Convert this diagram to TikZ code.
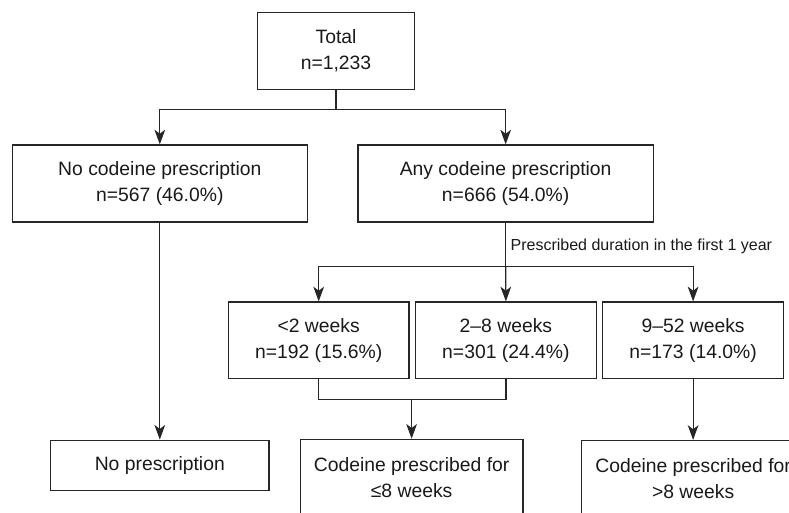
\documentclass[tikz,border=0pt]{standalone}
\usepackage{fontspec}
\setmainfont{Liberation Sans}
\usetikzlibrary{arrows.meta, positioning}

\begin{document}
\begin{tikzpicture}[
    x=0.75pt, y=-0.75pt,
    node distance=4pt,
    block/.style={rectangle, draw=black!85, line width=0.9pt, text=black!90, align=center, inner sep=0pt, minimum width=221.5pt, minimum height=57.75pt, font=\fontsize{14.5}{19.5}\selectfont},
    smallblock/.style={block, minimum width=135.5pt, minimum height=57.5pt},
    endblock/.style={block, minimum width=167pt},
    note/.style={text=black!90, inner sep=0pt, font=\fontsize{12}{14}\selectfont},
    line/.style={draw=black!85, line width=0.9pt, -{Stealth[length=11pt, width=8pt, inset=3pt]}}
]
    \useasboundingbox (0,0) rectangle (789,513);
    \clip (0,0) rectangle (789,513);

    % Nodes
    \node[block, minimum width=118.3pt] (total) at (336,50.8) {Total\\n=1,233};
    \node[block] (nocod) at (159.8,183.5) {No codeine prescription\\n=567 (46.0\%)};
    \node[block, right=37pt of nocod] (anycod) {Any codeine prescription\\n=666 (54.0\%)};

    % Duration groups
    \node[smallblock] (lt2) at (318.7,340.3) {<2 weeks\\n=192 (15.6\%)};
    \node[smallblock, right=of lt2] (w28) {2–8 weeks\\n=301 (24.4\%)};
    \node[smallblock, right=of w28] (w952) {9–52 weeks\\n=173 (14.0\%)};

    % Outcomes
    \node[block, minimum width=163.7pt, minimum height=37.7pt, below=162.75pt of nocod] (nopres) {No prescription};
    \node[endblock] (codle) at (411.6,477.8) {Codeine prescribed for\\≤8 weeks};
    \node[endblock, below=45.5pt of w952] (codgt) {Codeine prescribed for\\>8 weeks};

    % Joints
    \coordinate (topjoin) at (total.south |- 0,109.3);
    \coordinate (midjoin) at (anycod.south |- 0,266.7);
    \coordinate (lowjoin) at (codle.north |- 0,399.3);

    \node[note, anchor=west] (durlabel) at ([xshift=3.5pt]anycod.south |- 0,246.7) {Prescribed duration in the first 1 year};

    % Arrows
    \path[line] (total.south) -- (topjoin) -| (nocod.north);
    \path[line] (topjoin) -| (anycod.north);
    \path[line] (nocod.south) -- (nopres.north);
    \path[line] (anycod.south) -- (midjoin) -| (lt2.north);
    \path[line] (midjoin) -- (w28.north);
    \path[line] (midjoin) -| (w952.north);
    \draw[black!85, line width=0.9pt] (lt2.south) |- (lowjoin) -| (w28.south);
    \path[line] (lowjoin) -- (codle.north);
    \path[line] (w952.south) -- (codgt.north);

\end{tikzpicture}
\end{document}
